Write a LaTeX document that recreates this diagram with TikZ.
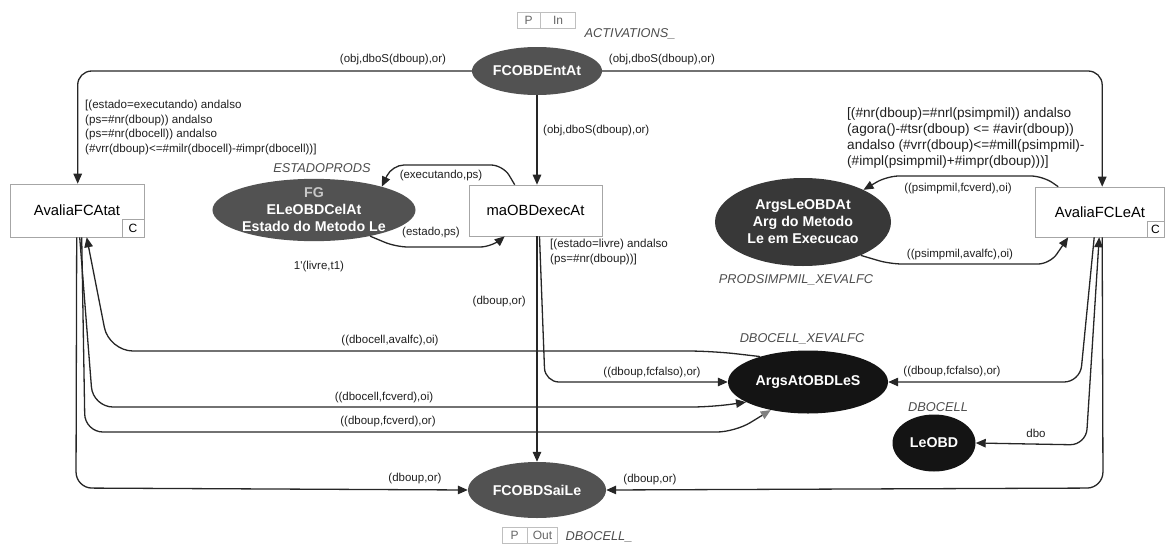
\documentclass[tikz,border=0pt]{standalone}
\usepackage{fontspec}
\setmainfont{Liberation Sans}
\usetikzlibrary{shapes.geometric,arrows.meta,calc}

\begin{document}
\begin{tikzpicture}[x=1pt,y=-1pt,
  lbl/.style={font=\fontsize{11.5}{13}\selectfont, inner sep=0pt, text=black!88},
  grd/.style={font=\fontsize{11.6}{14.5}\selectfont, align=left, inner sep=0pt, anchor=north west, text=black!88},
  trans/.style={draw=black!35, line width=0.6pt, rectangle, inner sep=0pt, font=\fontsize{14.8}{17}\selectfont},
  gplace/.style={ellipse, fill=black!68, text=white, font=\bfseries\fontsize{14.2}{17}\selectfont, inner sep=0pt, align=center},
  dplace/.style={gplace, fill=black!92},
  arc/.style={draw=black!85, line width=1.3pt, rounded corners=14pt, -{Triangle[length=10pt,width=8.5pt]}},
  tag/.style={font=\itshape\fontsize{12.8}{15}\selectfont, text=black!70, inner sep=0pt},
  port/.style={draw=black!25, line width=0.5pt, rectangle, inner sep=0pt, font=\fontsize{12}{14}\selectfont, text=black!60, minimum height=16pt}
]
\useasboundingbox (0,0) rectangle (1165,544);

% ---------- transitions ----------
\node[trans, minimum width=134pt, minimum height=53pt] (avf) at (77,210.5) {AvaliaFCAtat};
\node[trans, minimum width=22pt, minimum height=18pt] (avfc) at (133,228) {\fontsize{12}{14}\selectfont C};
\node[trans, minimum width=133pt, minimum height=51pt] (exec) at (535.5,210.5) {maOBDexecAt};
\node[trans, minimum width=129pt, minimum height=50pt] (avl) at (1100,212) {AvaliaFCLeAt};
\node[trans, minimum width=17pt, minimum height=16pt] (avlc) at (1155.5,229) {\fontsize{12}{14}\selectfont C};

% ---------- places ----------
\node[gplace, minimum width=130pt, minimum height=48pt] (ent) at (537,71) {FCOBDEntAt};
\node[gplace, minimum width=162pt, minimum height=56pt] (fg) at (314,210)
  {{\color{black!22}FG}\\ELeOBDCelAt\\Estado do Metodo Le};
\node[dplace, fill=black!78, minimum width=176pt, minimum height=88pt] (argsle) at (803,222)
  {ArgsLeOBDAt\\Arg do Metodo\\Le em Execucao};
\node[dplace, minimum width=160pt, minimum height=63pt] (argsat) at (808,382) {ArgsAtOBDLeS};
\node[dplace, minimum width=83pt, minimum height=57pt] (leobd) at (934,443) {LeOBD};
\node[gplace, minimum width=138pt, minimum height=56pt] (sai) at (537,490) {FCOBDSaiLe};

% ---------- port tags and place colour sets ----------
\node[port, minimum width=23pt] (pin) at (528.5,20) {P};
\node[port, minimum width=35pt, anchor=west] (inport) at (pin.east) {In};
\node[tag] (tact) at (630,34) {ACTIVATIONS\_};
\node[port, minimum width=25pt] (pout) at (514.5,535) {P};
\node[port, minimum width=30pt, anchor=west] (outport) at (pout.east) {Out};
\node[tag] (tsai) at (599,537) {DBOCELL\_};
\node[tag] (tfg) at (322,168) {ESTADOPRODS};
\node[lbl] (init) at (319,267) {1\textquotesingle(livre,t1)};
\node[tag] (targsle) at (796,280) {PRODSIMPMIL\_XEVALFC};
\node[tag] (targsat) at (802,339) {DBOCELL\_XEVALFC};
\node[tag] (tleobd) at (938,407) {DBOCELL};

% ---------- guards ----------
\node[grd] (gavf) at (85,100) {[(estado=executando) andalso\\(ps=\#nr(dboup)) andalso\\(ps=\#nr(dbocell)) andalso\\(\#vrr(dboup)<=\#milr(dbocell)-\#impr(dbocell))]};
\node[grd] (gexec) at (550,239) {[(estado=livre) andalso\\(ps=\#nr(dboup))]};
\node[grd, font=\fontsize{13.6}{16.3}\selectfont] (gavl) at (847,107) {[(\#nr(dboup)=\#nrl(psimpmil)) andalso\\(agora()-\#tsr(dboup) <= \#avir(dboup))\\andalso (\#vrr(dboup)<=\#mill(psimpmil)-\\(\#impl(psimpmil)+\#impr(dboup)))]};

% ---------- arcs from the input port ----------
\draw[arc] (ent.west) -| ($(avf.north west)+(68,0)$);
\draw[arc] (ent.east) -| ($(avl.north west)+(67,0)$);
\draw[arc, rounded corners=0pt] (ent.south) -- (exec.north -| ent.south);
\node[lbl] (a1) at (393,60) {(obj,dboS(dboup),or)};
\node[lbl] (a2) at (662,60) {(obj,dboS(dboup),or)};
\node[lbl, anchor=west] (a3) at (543,131) {(obj,dboS(dboup),or)};

% ---------- loop between maOBDexecAt and ESTADOPRODS ----------
\draw[arc, rounded corners=12pt] ($(exec.north west)+(46,0)$) -- (503,165) -- (392,165) -- (fg.19);
\draw[arc, rounded corners=12pt] (fg.-25) -- (396,247) -- (492,247) -- ($(exec.south west)+(36,0)$);
\node[lbl] (a4) at (441,176) {(executando,ps)};
\node[lbl] (a5) at (431,233) {(estado,ps)};

% ---------- arcs below maOBDexecAt ----------
\draw[arc, rounded corners=0pt] ($(exec.south)+(1.5,0)$) -- (sai.north);
\draw[arc] ($(exec.south)+(4,0)$) -- (545,382) -- (argsat.west);
\node[lbl, anchor=east] (a6) at (526,302) {(dboup,or)};
\node[lbl] (a7) at (652,373) {((dboup,fcfalso),or)};

% ---------- arcs of AvaliaFCAtat ----------
\draw[arc, rounded corners=24pt] (argsat.152) -- (712,351) -- (109,351) -- ($(avf.south west)+(77,0)$);
\draw[arc, rounded corners=20pt] ($(avf.south west)+(70,0)$) -- (93,407) -- (712,407) -- (argsat.198);
\draw[arc, rounded corners=18pt, -{Triangle[length=10pt,width=8.5pt,color=black!50,fill=black!50]}]
  ($(avf.south west)+(72,0)$) -- (85,432) -- (735,432) -- (argsat.217);
\draw[arc, rounded corners=16pt] ($(avf.south west)+(67,0)$) -- (76,488) -- (sai.west);
\node[lbl] (a8) at (390,341) {((dbocell,avalfc),oi)};
\node[lbl] (a9) at (384,398) {((dbocell,fcverd),oi)};
\node[lbl] (a10) at (388,422) {((dboup,fcverd),or)};
\node[lbl] (a11) at (415,479) {(dboup,or)};

% ---------- arcs of AvaliaFCLeAt ----------
\draw[arc, rounded corners=16pt] ($(avl.south west)+(67,0)$) -- (1103,488) -- (sai.east);
\draw[arc, rounded corners=16pt] ($(avl.south west)+(59,0)$) -- (1080,382) -- (argsat.east);
\draw[arc, rounded corners=16pt, {Triangle[length=10pt,width=8.5pt]}-{Triangle[length=10pt,width=8.5pt]}] ($(avl.south west)+(64,0)$) -- (1086,445) -- (leobd.east);
\node[lbl] (a12) at (650,480) {(dboup,or)};
\node[lbl] (a13) at (952,372) {((dboup,fcfalso),or)};
\node[lbl] (a14) at (1036,433) {dbo};

\draw[arc, rounded corners=12pt] ($(avl.north west)+(23,0)$) -- (1043,176) -- (887,176) -- (argsle.28);
\draw[arc, rounded corners=12pt] (argsle.-30) -- (890,264) -- (1050,264) -- ($(avl.south west)+(33,0)$);
\node[lbl] (a15) at (958,189) {((psimpmil,fcverd),oi)};
\node[lbl] (a16) at (960,255) {((psimpmil,avalfc),oi)};
\end{tikzpicture}
\end{document}
